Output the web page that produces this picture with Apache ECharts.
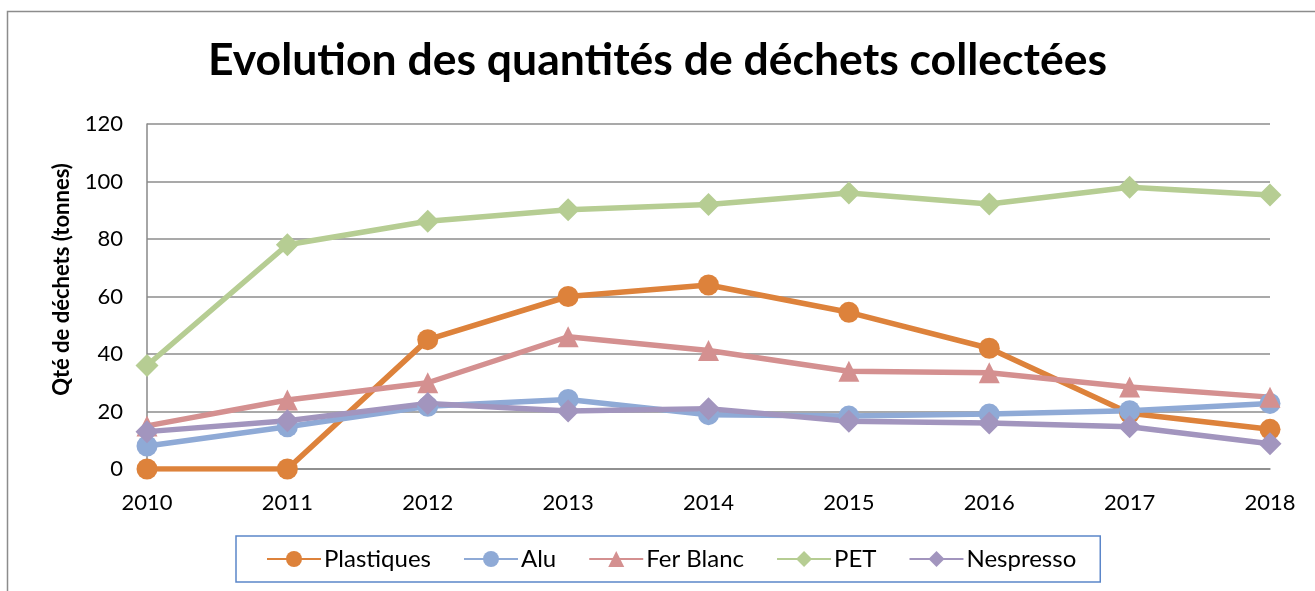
<!DOCTYPE html>
<html><head><meta charset="utf-8">
<script src="https://cdn.jsdelivr.net/npm/echarts@6/dist/echarts.min.js"></script>
<style>html,body{margin:0;padding:0;background:#fff}#c{width:1315px;height:591px}</style>
</head><body><div id="c"></div>
<script>
const years = ['2010','2011','2012','2013','2014','2015','2016','2017','2018'];
const plastiques = [0, 0, 45, 60, 64, 54.5, 42, 19.4, 13.8];
const alu = [8, 14.7, 21.8, 24.2, 18.9, 18.4, 19.1, 20.3, 22.8];
const ferBlanc = [15, 24, 30, 46, 41.2, 34, 33.5, 28.5, 25];
const pet = [36, 78, 86.2, 90.2, 92, 96, 92.2, 98, 95.3];
const nespresso = [13, 16.8, 22.8, 20.2, 21, 16.6, 16, 14.7, 8.8];
const yTicks = [0, 20, 40, 60, 80, 100, 120];

const FONT = 'Lato, "Open Sans", sans-serif';
const chart = echarts.init(document.getElementById('c'));
function mk(name, data, color, symbol, size){
  return {name, type:'line', data, symbol, symbolSize:size, color,
    lineStyle:{width:5.5, color}, itemStyle:{color}, z: 3};
}
chart.setOption({
  animation:false,
  textStyle:{fontFamily:FONT},
  graphic:[{type:'rect', shape:{x:7.5,y:11.5,width:1330,height:620},
    style:{fill:'none', stroke:'#8c8c8c', lineWidth:1.5}, silent:true}],
  title:{text:'Evolution des quantités de déchets collectées', left:'center', top:33,
    textStyle:{fontFamily:FONT, fontSize:44.5, fontWeight:'bold', color:'#000'}},
  legend:{left:236, top:536, padding:[11,24,11,30], itemGap:32,
    borderColor:'#5b86c9', borderWidth:1.5, itemWidth:54, itemHeight:20,
    textStyle:{fontFamily:FONT, fontSize:24, color:'#000', padding:[0,0,0,-2]},
    data:['Plastiques','Alu','Fer Blanc','PET','Nespresso']},
  grid:{left:147, right:45, top:124, bottom:122, containLabel:false},
  xAxis:{type:'category', data:years, boundaryGap:false,
    axisLine:{lineStyle:{color:'#888', width:1.5}}, axisTick:{show:false},
    axisLabel:{color:'#000', fontSize:22, margin:23, fontFamily:FONT}},
  yAxis:{type:'value', min:0, max:120, interval:20,
    name:'Qté de déchets (tonnes)', nameLocation:'middle', nameGap:74, nameRotate:90,
    nameTextStyle:{fontFamily:FONT, fontSize:22, fontWeight:'bold', color:'#000', padding:[0,0,0,34]},
    axisLine:{show:true, lineStyle:{color:'#888', width:1.5}}, axisTick:{show:false},
    axisLabel:{color:'#000', fontSize:22, margin:24, fontFamily:FONT,
      formatter:v=>yTicks.includes(v)?String(v):''},
    splitLine:{lineStyle:{color:'#8c8c8c', width:1.5}}},
  series:[
    mk('Plastiques', plastiques, '#dd823b', 'circle', 21),
    mk('Alu', alu, '#8faad6', 'circle', 21),
    mk('Fer Blanc', ferBlanc, '#d49090', 'triangle', 21),
    mk('PET', pet, '#b6cd93', 'diamond', 23),
    mk('Nespresso', nespresso, '#a295be', 'diamond', 23)
  ]
});
</script></body></html>
